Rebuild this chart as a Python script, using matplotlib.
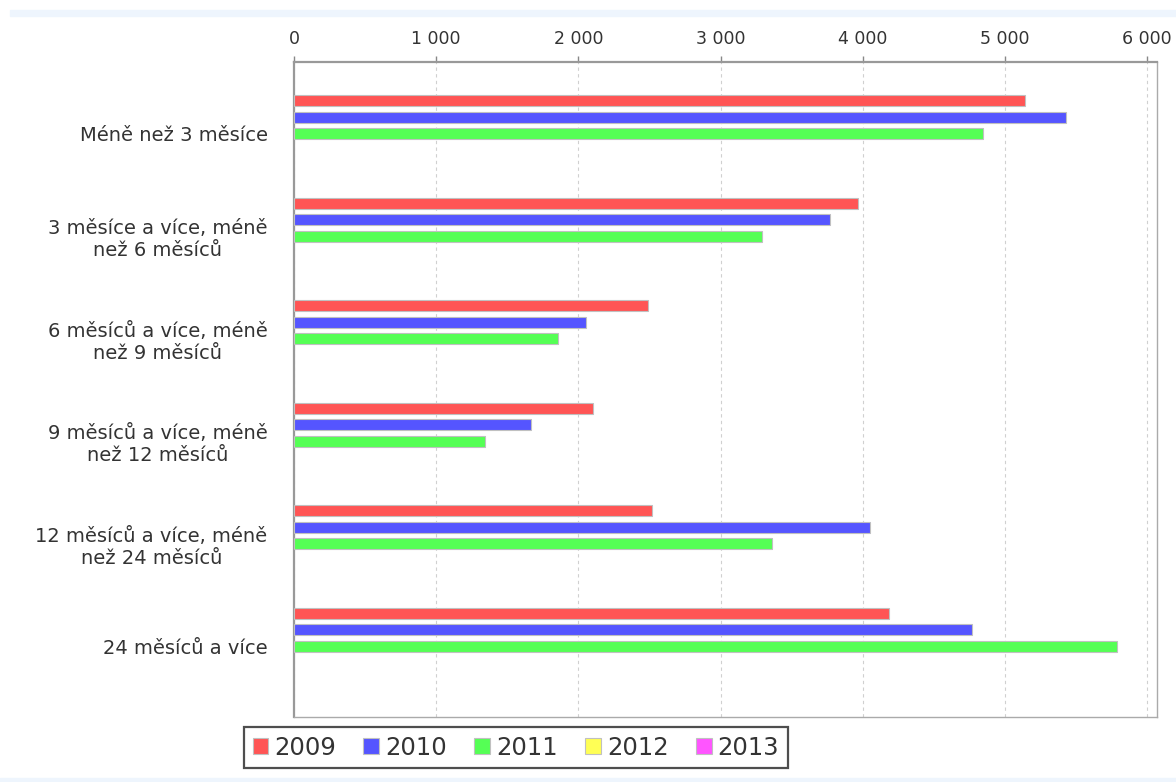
import numpy as np
import matplotlib.pyplot as plt
from matplotlib.patches import Rectangle
from matplotlib.ticker import FuncFormatter

categories = [
    "Méně než 3 měsíce",
    "3 měsíce a více, méně\nnež 6 měsíců",
    "6 měsíců a více, méně\nnež 9 měsíců",
    "9 měsíců a více, méně\nnež 12 měsíců",
    "12 měsíců a více, méně\nnež 24 měsíců",
    "24 měsíců a více",
]
years = ["2009", "2010", "2011", "2012", "2013"]
v2009 = [5140, 3970, 2490, 2105, 2515, 4185]
v2010 = [5430, 3770, 2055, 1670, 4050, 4770]
v2011 = [4845, 3290, 1860, 1345, 3365, 5785]
v2012 = [0, 0, 0, 0, 0, 0]
v2013 = [0, 0, 0, 0, 0, 0]
series = [v2009, v2010, v2011, v2012, v2013]
colors = ["#ff5555", "#5555ff", "#55ff55", "#ffff55", "#ff55ff"]

fig = plt.figure(figsize=(11.76, 7.82), dpi=100)
ax = fig.add_axes([0.25, 0.0831, 0.7339, 0.8376])

# light strips around the chart like the original page
fig.patches.append(Rectangle((10 / 1176, 1 - 16 / 782), 1, 6 / 782,
                             transform=fig.transFigure, color="#eef5fd", zorder=0))
fig.patches.append(Rectangle((0, 0), 1, 4 / 782,
                             transform=fig.transFigure, color="#eef5fd", zorder=0))

y = np.arange(len(categories))
step = 0.161
h = 0.107
for i, (vals, col) in enumerate(zip(series, colors)):
    lw = [0.8 if v > 0 else 0 for v in vals]
    ax.barh(y + (i - 2) * step, vals, height=h, color=col, edgecolor="#c0c0c0",
            linewidth=lw, zorder=3)

ax.set_xlim(0, 6070)
ax.set_ylim(5.69, -0.70)
ax.set_yticks(y)
ax.set_yticklabels(categories, fontsize=14, color="#333333", ha="right",
                   multialignment="center")
ax.tick_params(axis="y", length=0, pad=19)

ax.xaxis.tick_top()
ax.set_xticks(range(0, 6001, 1000))
ax.xaxis.set_major_formatter(FuncFormatter(lambda v, p: f"{int(v):,}".replace(",", " ")))
ax.tick_params(axis="x", direction="out", length=4, width=1, color="#888888",
               labelsize=12.5, labelcolor="#333333", pad=6)
ax.grid(axis="x", color="#d0d0d0", linestyle=(0, (3, 3)), linewidth=0.8, zorder=0)

for side in ["top", "left"]:
    ax.spines[side].set_color("#999999")
    ax.spines[side].set_linewidth(1.6)
for side in ["bottom", "right"]:
    ax.spines[side].set_color("#aaaaaa")
    ax.spines[side].set_linewidth(1.0)

handles = [Rectangle((0, 0), 1, 1, facecolor=c, edgecolor="#c0c0c0", linewidth=0.8)
           for c in colors]
leg = ax.legend(handles, years, loc="upper left", bbox_to_anchor=(244 / 1176, 1 - 727 / 782),
                bbox_transform=fig.transFigure, ncol=5, fontsize=17.5,
                frameon=True, fancybox=False, handlelength=0.65, handleheight=0.65,
                handletextpad=0.25, columnspacing=1.12, borderpad=0.35,
                borderaxespad=0)
leg.get_frame().set_edgecolor("#222222")
leg.get_frame().set_linewidth(1.6)
for t in leg.get_texts():
    t.set_color("#333333")

fig.savefig("out.png", dpi=100)
